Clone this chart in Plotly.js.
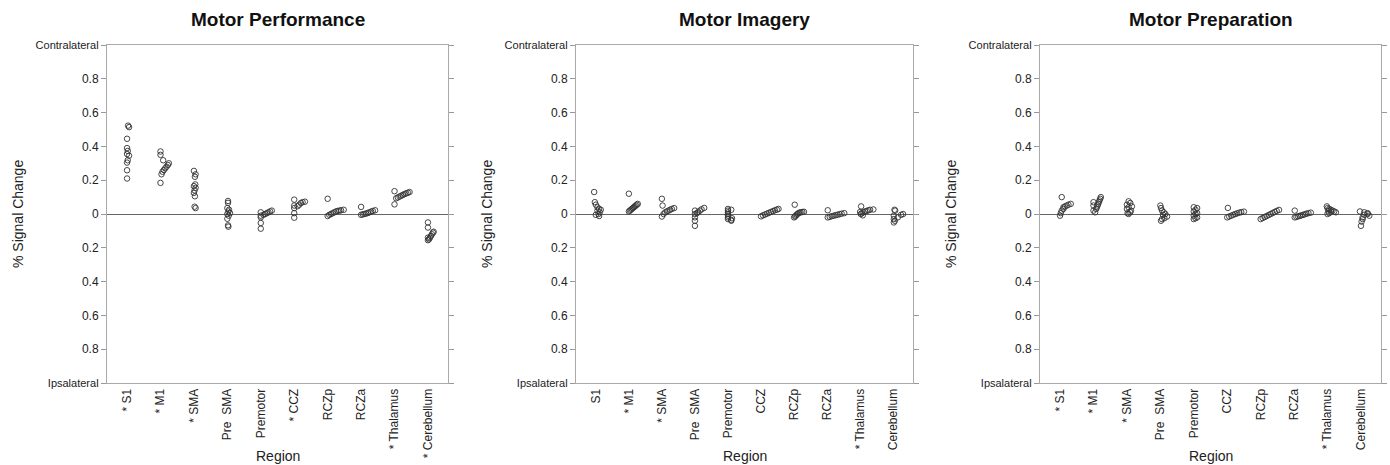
<!DOCTYPE html>
<html>
<head>
<meta charset="utf-8">
<script src="https://cdn.plot.ly/plotly-3.0.1.min.js"></script>
<style>html,body{margin:0;padding:0;background:#fff;}#chart{width:1390px;height:465px;}</style>
</head>
<body>
<div id="chart"></div>
<script>
// ---- Data ----
const panelTitles = ["Motor Performance", "Motor Imagery", "Motor Preparation"];

const labelsPerformance = ["* S1", "* M1", "* SMA", "Pre\u00a0\u00a0SMA", "Premotor", "* CCZ", "RCZp", "RCZa", "* Thalamus", "* Cerebellum"];
const labelsImagery     = ["S1", "* M1", "* SMA", "Pre\u00a0\u00a0SMA", "Premotor", "CCZ", "RCZp", "RCZa", "* Thalamus", "Cerebellum"];
const labelsPreparation = ["* S1", "* M1", "* SMA", "Pre\u00a0\u00a0SMA", "Premotor", "CCZ", "RCZp", "RCZa", "* Thalamus", "Cerebellum"];

const yTickVals = [-1, -0.8, -0.6, -0.4, -0.2, 0, 0.2, 0.4, 0.6, 0.8, 1];
const yTickText = ["Ipsalateral", "0.8", "0.6", "0.4", "0.2", "0", "0.2", "0.4", "0.6", "0.8", "Contralateral"];

// signal change values per region (one inner list per region)
const performanceY = [
  [0.523, 0.514, 0.445, 0.39, 0.373, 0.355, 0.345, 0.318, 0.304, 0.259, 0.21],
  [0.37, 0.35, 0.318, 0.30, 0.29, 0.28, 0.27, 0.26, 0.25, 0.235, 0.184],
  [0.255, 0.235, 0.22, 0.175, 0.165, 0.155, 0.14, 0.125, 0.105, 0.043, 0.035],
  [0.077, 0.066, 0.035, 0.025, 0.015, 0.005, 0.0, -0.01, -0.028, -0.067, -0.075],
  [0.01, -0.01, -0.02, -0.053, -0.087, -0.005, 0.0, 0.005, 0.01, 0.015, 0.02],
  [0.085, 0.05, 0.035, 0.005, -0.022, 0.046, 0.055, 0.065, 0.07, 0.073],
  [0.09, -0.012, -0.005, 0.0, 0.005, 0.01, 0.015, 0.018, 0.02, 0.022, 0.025],
  [0.042, -0.005, -0.002, 0.0, 0.003, 0.006, 0.01, 0.014, 0.018, 0.022],
  [0.135, 0.057, 0.093, 0.098, 0.103, 0.108, 0.113, 0.118, 0.122, 0.126, 0.13],
  [-0.05, -0.08, -0.14, -0.155, -0.15, -0.14, -0.13, -0.12, -0.11, -0.105]
];
// horizontal spread of the subjects within each region (fraction of a category)
const performanceJitter = [
  [0.03, 0.06, 0, 0, 0.02, 0, 0.06, 0.02, 0, 0, 0],
  [0, 0, 0.08, 0.25, 0.22, 0.18, 0.14, 0.1, 0.06, 0.03, 0],
  [0, 0.05, 0.03, 0.04, 0, 0.05, 0.02, 0, 0.03, 0.02, 0.05],
  [0.02, 0.02, 0, 0.05, 0.03, 0.08, 0, 0.04, 0, 0.02, 0.03],
  [0, 0, 0, 0, 0, 0.08, 0.13, 0.18, 0.23, 0.28, 0.33],
  [0, 0, 0, 0, 0, 0.1, 0.15, 0.2, 0.25, 0.32],
  [0, 0, 0.05, 0.1, 0.15, 0.2, 0.25, 0.3, 0.35, 0.4, 0.48],
  [0, 0, 0.05, 0.1, 0.15, 0.2, 0.25, 0.3, 0.35, 0.42],
  [0, 0, 0.05, 0.1, 0.15, 0.2, 0.25, 0.3, 0.35, 0.4, 0.45],
  [0, 0, 0, 0, 0.03, 0.06, 0.09, 0.12, 0.15, 0.17]
];

const imageryY = [
  [0.13, 0.07, 0.055, 0.04, 0.03, 0.02, 0.01, 0.0, -0.005, -0.012, 0.025],
  [0.12, 0.015, 0.02, 0.025, 0.03, 0.035, 0.04, 0.045, 0.05, 0.055, 0.06],
  [0.09, 0.05, -0.015, 0.0, 0.01, 0.015, 0.02, 0.025, 0.03, 0.035],
  [0.02, 0.0, -0.02, -0.04, -0.07, 0.005, 0.012, 0.02, 0.028, 0.036],
  [0.03, 0.02, 0.01, 0.0, -0.01, -0.02, -0.03, -0.035, -0.04, 0.025, -0.025],
  [-0.014, -0.008, -0.003, 0.002, 0.007, 0.012, 0.017, 0.022, 0.026, 0.03],
  [0.055, -0.02, -0.015, -0.01, -0.005, 0.0, 0.005, 0.008, 0.01, 0.012, 0.013],
  [0.022, -0.02, -0.017, -0.013, -0.01, -0.007, -0.004, -0.001, 0.002, 0.005],
  [0.045, 0.012, 0.005, 0.0, -0.008, 0.01, 0.015, 0.018, 0.022, 0.025, 0.027],
  [0.025, 0.02, -0.01, -0.03, -0.05, -0.02, -0.005, 0.0, -0.04]
];
const imageryJitter = [
  [-0.05, -0.03, 0, 0.05, 0.1, 0.05, 0.12, 0.08, 0, 0.1, 0.15],
  [0, 0, 0.03, 0.06, 0.09, 0.12, 0.15, 0.18, 0.21, 0.24, 0.27],
  [0, 0.02, 0, 0.05, 0.1, 0.15, 0.2, 0.25, 0.3, 0.37],
  [0, 0, 0, 0, 0, 0.06, 0.1, 0.15, 0.2, 0.28],
  [0, 0, 0, 0, 0, 0, 0, 0.1, 0.1, 0.1, 0.12],
  [0, 0.06, 0.12, 0.18, 0.24, 0.3, 0.36, 0.42, 0.48, 0.53],
  [0.02, 0, 0.03, 0.05, 0.08, 0.1, 0.13, 0.17, 0.2, 0.25, 0.3],
  [0.02, 0.02, 0.08, 0.14, 0.2, 0.26, 0.32, 0.38, 0.44, 0.52],
  [0.03, 0, 0.05, 0.02, 0.08, 0.1, 0.15, 0.2, 0.25, 0.3, 0.4],
  [0.04, 0.06, 0.02, 0.02, 0.02, 0.14, 0.24, 0.3, 0.05]
];

const preparationY = [
  [0.1, -0.01, 0.005, 0.02, 0.03, 0.04, 0.045, 0.05, 0.055, 0.06],
  [0.07, 0.05, 0.02, 0.01, 0.03, 0.04, 0.05, 0.06, 0.07, 0.08, 0.09, 0.1],
  [0.075, 0.065, 0.055, 0.045, 0.04, 0.03, 0.02, 0.01, 0.005, 0.0],
  [0.05, 0.035, 0.02, 0.01, 0.0, -0.005, -0.015, -0.025, -0.03, -0.04],
  [0.04, 0.035, 0.025, 0.015, 0.005, 0.0, -0.01, -0.02, -0.025, -0.03],
  [0.036, -0.02, -0.015, -0.01, -0.005, 0.0, 0.004, 0.008, 0.011, 0.014],
  [-0.03, -0.024, -0.018, -0.012, -0.006, 0.0, 0.006, 0.012, 0.018, 0.024],
  [0.02, -0.02, -0.017, -0.014, -0.011, -0.008, -0.005, -0.002, 0.002, 0.005, 0.008],
  [0.045, 0.035, 0.03, 0.025, 0.02, 0.015, 0.01, 0.005, 0.0, 0.015, 0.02],
  [0.015, 0.01, 0.0, -0.01, -0.02, -0.03, -0.045, -0.07, 0.005, -0.005]
];
const preparationJitter = [
  [0.05, 0, 0.02, 0.05, 0.1, 0.1, 0.15, 0.2, 0.25, 0.32],
  [0, 0, 0, 0.05, 0.08, 0.1, 0.12, 0.14, 0.16, 0.18, 0.2, 0.22],
  [0.05, 0.1, 0, 0.15, 0.05, 0, 0.12, 0.1, 0.02, 0.05],
  [0, 0.02, 0.05, 0.1, 0.15, 0.08, 0.2, 0.12, 0.05, 0.02],
  [0, 0.1, 0.05, 0, 0.1, 0.05, 0, 0.1, 0.05, 0],
  [0.02, 0, 0.06, 0.12, 0.18, 0.24, 0.3, 0.36, 0.42, 0.5],
  [0, 0.06, 0.12, 0.18, 0.24, 0.3, 0.36, 0.42, 0.48, 0.55],
  [0.02, 0.02, 0.07, 0.12, 0.17, 0.22, 0.27, 0.32, 0.37, 0.43, 0.5],
  [-0.02, 0, 0.05, 0.1, 0.15, 0.2, 0.25, 0.05, 0, 0.1, 0.02],
  [-0.03, 0.1, 0.2, 0.25, 0.05, 0.05, 0.02, 0, 0.2, 0.1]
];

// ---- Build figure ----
const W = 1390, H = 465;
const FONT = "Liberation Sans, Arial, Helvetica, sans-serif";
const panels = [
  {y: performanceY, j: performanceJitter, labels: labelsPerformance, px: [107, 448]},
  {y: imageryY, j: imageryJitter, labels: labelsImagery, px: [576, 913]},
  {y: preparationY, j: preparationJitter, labels: labelsPreparation, px: [1040, 1381]}
];
const plotTop = 45, plotBottom = 383;
const yDomain = [1 - plotBottom / H, 1 - plotTop / H];

const traces = [];
const layout = {
  width: W, height: H,
  margin: {l: 0, r: 0, t: 0, b: 0},
  paper_bgcolor: "#fff", plot_bgcolor: "#fff",
  showlegend: false,
  font: {family: FONT, color: "#222"},
  annotations: []
};

const yTickTextStyled = yTickText.map(t => isNaN(parseFloat(t)) ? '<span style="font-size:11px">' + t + '</span>' : t);

panels.forEach((p, k) => {
  const sfx = k === 0 ? "" : String(k + 1);
  const xs = [], ys = [];
  p.y.forEach((vals, i) => {
    vals.forEach((v, n) => { xs.push(i + p.j[i][n]); ys.push(v); });
  });
  traces.push({
    type: "scatter", mode: "markers",
    x: xs, y: ys,
    xaxis: "x" + sfx, yaxis: "y" + sfx,
    marker: {symbol: "circle-open", size: 5.5, color: "#333", line: {width: 0.9, color: "#333"}},
    hoverinfo: "skip"
  });
  const dom = [p.px[0] / W, p.px[1] / W];
  layout["xaxis" + sfx] = {
    domain: dom, anchor: "y" + sfx,
    range: [-0.6, 9.6],
    tickmode: "array", tickvals: p.labels.map((_, i) => i), ticktext: p.labels,
    tickangle: -90, ticks: "", ticklen: 0,
    tickfont: {family: FONT, size: 12, color: "#222"},
    showline: true, mirror: true, linecolor: "#aaa", linewidth: 1,
    showgrid: false, zeroline: false, fixedrange: true
  };
  layout["yaxis" + sfx] = {
    domain: yDomain, anchor: "x" + sfx,
    range: [-1, 1],
    tickmode: "array", tickvals: yTickVals, ticktext: yTickTextStyled,
    ticks: "outside", ticklen: 5, tickcolor: "#999", tickwidth: 1,
    tickfont: {family: FONT, size: 12, color: "#222"},
    showline: true, mirror: "ticks", linecolor: "#aaa", linewidth: 1,
    showgrid: false,
    zeroline: true, zerolinecolor: "#666", zerolinewidth: 1,
    fixedrange: true
  };
  const cx = (p.px[0] + p.px[1]) / 2 / W;
  layout.annotations.push({
    text: "<b>" + panelTitles[k] + "</b>", xref: "paper", yref: "paper",
    x: cx, y: 1 - 20 / H, xanchor: "center", yanchor: "middle",
    showarrow: false, font: {family: FONT, size: 19, color: "#111"}
  });
  layout.annotations.push({
    text: "Region", xref: "paper", yref: "paper",
    x: cx, y: 1 - 456 / H, xanchor: "center", yanchor: "middle",
    showarrow: false, font: {family: FONT, size: 14, color: "#222"}
  });
  layout.annotations.push({
    text: "% Signal Change", xref: "paper", yref: "paper",
    x: (p.px[0] - 89) / W, y: 1 - 214 / H, xanchor: "center", yanchor: "middle",
    textangle: -90, showarrow: false, font: {family: FONT, size: 14, color: "#222"}
  });
});

Plotly.newPlot("chart", traces, layout, {staticPlot: true, displayModeBar: false});
</script>
</body>
</html>
